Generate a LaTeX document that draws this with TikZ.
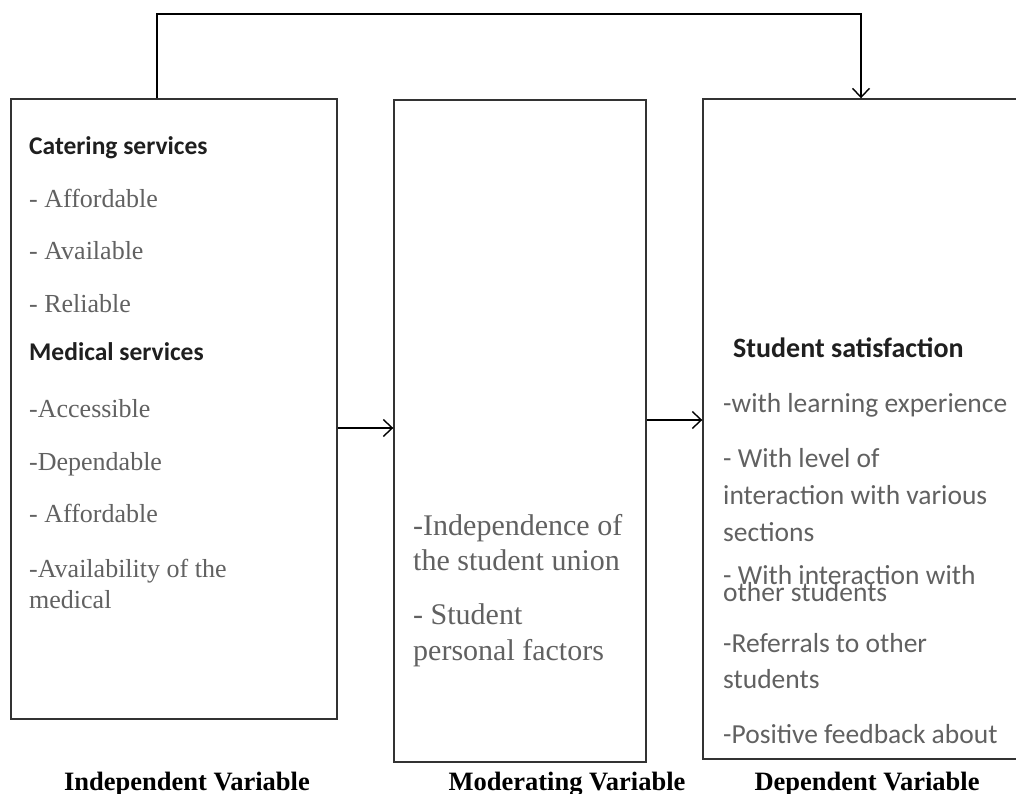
\documentclass[tikz,border=0pt]{standalone}
\usepackage{fontspec}
\setmainfont{Liberation Serif}
\newfontfamily\calibri{Carlito}
\usepackage{xcolor}
\usetikzlibrary{arrows.meta}

\tikzset{
	box/.style = {draw = black!80, line width = 1.4pt, inner sep = 0pt},
	item/.style = {inner sep = 0pt, anchor = base west, text = black!62, font = \fontsize{26}{26}\selectfont},
	mitem/.style = {item, font = \fontsize{30}{30}\selectfont},
	sitem/.style = {item, font = \calibri\fontsize{27.5}{27.5}\selectfont},
	head/.style = {inner sep = 0pt, anchor = base west, text = black!88, font = \calibri\bfseries\fontsize{25.5}{25.5}\selectfont},
	caption/.style = {inner sep = 0pt, anchor = base, font = \bfseries\fontsize{26.5}{26.5}\selectfont},
	link/.style = {line width = 1.4pt, -{Straight Barb[length = 9pt, width = 17pt, line width = 1.4pt]}}
}

\begin{document}
\begin{tikzpicture}[x = 1pt, y = -1pt]
		\clip (0,0) rectangle (1016,794);
		\fill [white] (0,0) rectangle (1016,794);
		
		% the three boxes
		\node [box, minimum width = 326pt, minimum height = 620pt] (iv) at (174,409) {};
		\node [box, minimum width = 252pt, minimum height = 662pt] (mv) at (520,431) {};
		\node [box, minimum width = 330pt, minimum height = 660pt] (dv) at (868,429) {};
		
		% independent variable
		\begin{scope}
			\node [head] (cat) at (29,155) {Catering services};
			\node [item] (cat1) at (29,208) {- Affordable};
			\node [item] (cat2) at (29,259) {- Available};
			\node [item] (cat3) at (29,312) {- Reliable};
			\node [head] (med) at (29,360) {Medical services};
			\node [item] (med1) at (29,417) {-Accessible};
			\node [item] (med2) at (29,470) {-Dependable};
			\node [item] (med3) at (29,522) {- Affordable};
			\node [item] (med4) at (29,577) {-Availability of the};
			\node [item] (med5) at (29,608) {medical};
		\end{scope}
		
		% moderating variable
		\begin{scope}
			\node [mitem] (mod1) at (413,535) {-Independence of};
			\node [mitem] (mod2) at (413,570) {the student union};
			\node [mitem] (mod3) at (413,624) {- Student};
			\node [mitem] (mod4) at (413,660) {personal factors};
		\end{scope}
		
		% dependent variable
		\begin{scope}
			\node [head, font = \calibri\bfseries\fontsize{28}{28}\selectfont] (sat) at (733,357) {Student satisfaction};
			\node [sitem] (sat1) at (723,412) {-with learning experience};
			\node [sitem] (sat2) at (723,467) {- With level of};
			\node [sitem] (sat3) at (723,504) {interaction with various};
			\node [sitem] (sat4) at (723,541) {sections};
			\node [sitem] (sat5) at (723,584) {- With interaction with};
			\node [sitem] (sat6) at (723,601) {other students};
			\node [sitem] (sat7) at (723,652) {-Referrals to other};
			\node [sitem] (sat8) at (723,688) {students};
			\node [sitem] (sat9) at (723,743) {-Positive feedback about};
		\end{scope}
		
		% captions
		\node [caption] (ivcap) at (187,790) {Independent Variable};
		\node [caption] (mvcap) at (567,790) {Moderating Variable};
		\node [caption] (dvcap) at (867,790) {Dependent Variable};
		
		% connectors
		\draw [link] (iv.east |- 0,428) -- (mv.west |- 0,428);
		\draw [link] (mv.east |- 0,420) -- (dv.west |- 0,420);
		\draw [link] (iv.north -| 157,0) -- (157,14) -| (dv.north -| 861,0);
	\end{tikzpicture}
\end{document}
